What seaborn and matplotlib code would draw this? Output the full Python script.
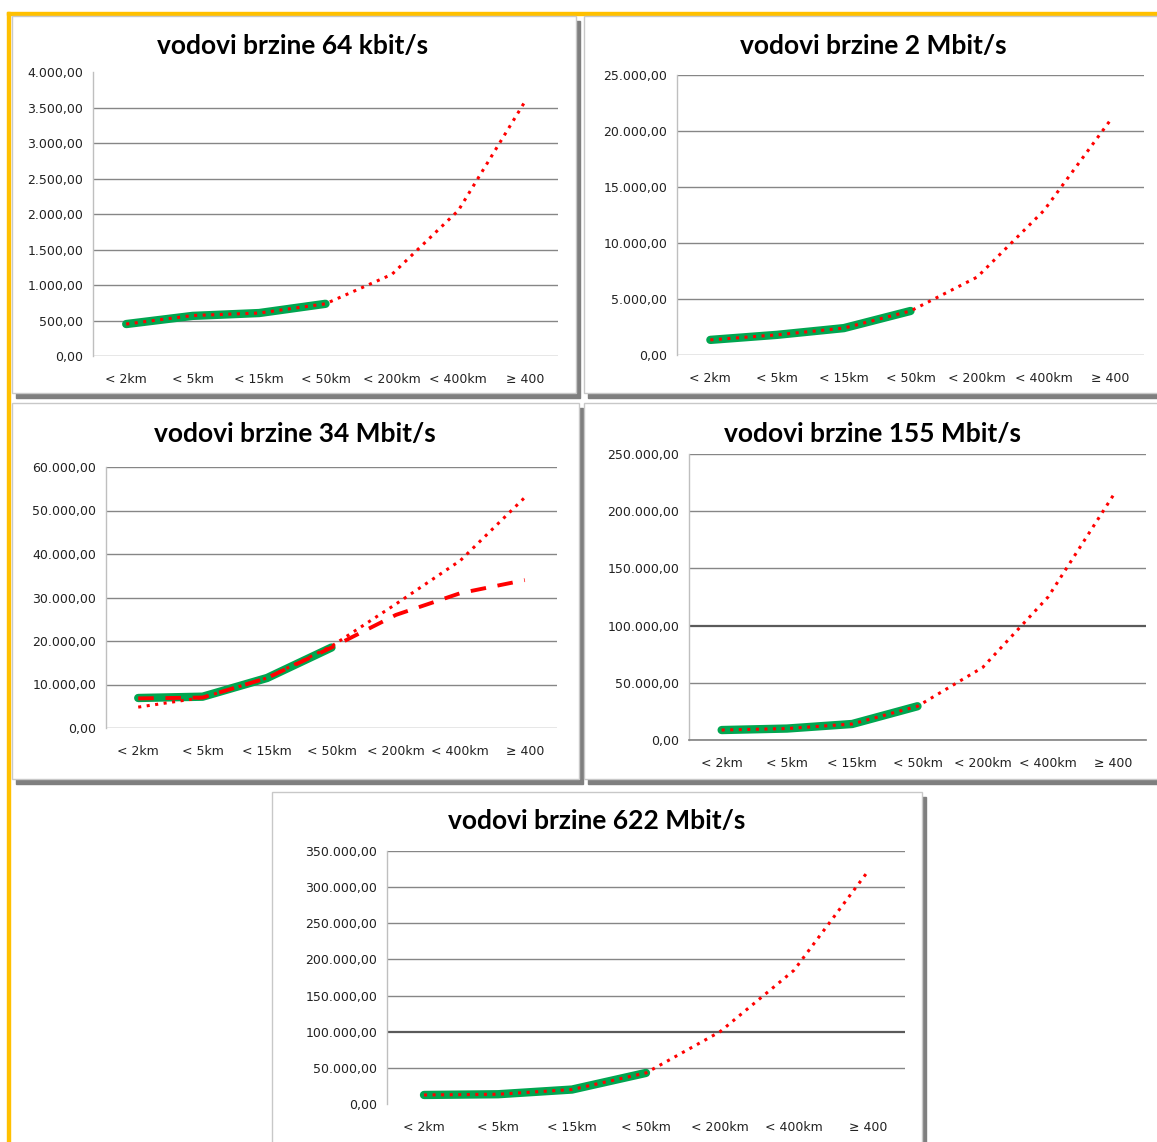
import matplotlib
matplotlib.use("Agg")
import matplotlib.pyplot as plt
from matplotlib.patches import Rectangle
from matplotlib.ticker import FuncFormatter, MultipleLocator
import seaborn as sns

W, H = 1157, 1142

kategorije = ["< 2km", "< 5km", "< 15km", "< 50km", "< 200km", "< 400km", "≥ 400"]

# vrijednosti ocitane sa slike (procjena)
trend_64k = [450, 570, 605, 735, 1150, 2050, 3580]
stvarno_64k = [450, 565, 605, 735]
trend_2m = [1350, 1800, 2400, 3930, 6960, 12900, 21000]
stvarno_2m = [1350, 1800, 2400, 3930]
trend_34m = [4800, 7000, 11500, 18800, 28500, 38500, 53000]
crtkano_34m = [6800, 7000, 11500, 18500, 26000, 31000, 34000]
stvarno_34m = [6900, 7200, 11500, 18500]
trend_155m = [8700, 10000, 14000, 29500, 63500, 125000, 214000]
stvarno_155m = [8700, 10000, 14000, 29500]
trend_622m = [12500, 13500, 20000, 43000, 100000, 185000, 322000]
stvarno_622m = [12500, 13500, 20000, 43000]

naslovi = ["vodovi brzine 64 kbit/s", "vodovi brzine 2 Mbit/s", "vodovi brzine 34 Mbit/s",
           "vodovi brzine 155 Mbit/s", "vodovi brzine 622 Mbit/s"]

ZELENA = "#00A650"
CRVENA = "#FF0000"
SIVA = "#868686"


def px_rect(x0, y0, x1, y1):
    # pikseli (y prema dolje) -> udio figure
    return [x0 / W, 1 - y1 / H, (x1 - x0) / W, (y1 - y0) / H]


def hr_format(v, pos):
    s = "{:,.2f}".format(v)
    return s.replace(",", "X").replace(".", ",").replace("X", ".")


def okvir(fig, x0, y0, x1, y1):
    # sjena pa bijela ploha s tankim rubom
    fig.patches.append(Rectangle((x0 / W + 4 / W, 1 - (y1 + 5) / H), (x1 - x0) / W, (y1 - y0) / H,
                                 transform=fig.transFigure, color="#7F7F7F", zorder=0))
    fig.patches.append(Rectangle((x0 / W, 1 - y1 / H), (x1 - x0) / W, (y1 - y0) / H,
                                 transform=fig.transFigure, facecolor="white",
                                 edgecolor="#C8C8C8", lw=1, zorder=1))


def crtaj(ax, trend, stvarno, ymax, step, naslov, naslov_xy, crtkano=None, donja_os=False):
    sns.lineplot(x=kategorije[:len(stvarno)], y=stvarno, ax=ax, color=ZELENA, lw=6,
                 sort=False, solid_capstyle="round", zorder=3)
    if crtkano is not None:
        sns.lineplot(x=kategorije, y=crtkano, ax=ax, color=CRVENA, lw=2.8, sort=False,
                     linestyle=(0, (4, 3)), zorder=4)
    sns.lineplot(x=kategorije, y=trend, ax=ax, color=CRVENA, lw=2.2, sort=False,
                 linestyle=(0, (1, 1.8)), zorder=5)
    ax.set_xlim(-0.5, 6.5)
    ax.set_ylim(0, ymax)
    ax.yaxis.set_major_locator(MultipleLocator(step))
    ax.yaxis.set_major_formatter(FuncFormatter(hr_format))
    ax.grid(axis="y", color=SIVA, lw=1)
    ax.grid(axis="x", visible=False)
    for gl in ax.get_ygridlines():
        y = gl.get_ydata()[0]
        if y == 0 and not donja_os:
            gl.set_visible(False)
        if y == 100000:
            gl.set_color("#5A5A5A")
            gl.set_lw(1.6)
    ax.set_xticks(range(len(kategorije)))
    ax.set_xticklabels(kategorije)
    ax.set_xticks([i - 0.5 for i in range(len(kategorije) + 1)], minor=True)
    ax.tick_params(axis="x", which="major", length=0, pad=12, labelsize=9, labelcolor="#222222")
    ax.tick_params(axis="x", which="minor", length=5, width=1, color=SIVA, direction="out")
    ax.tick_params(axis="y", length=4, width=1, color=SIVA, labelsize=9, labelcolor="#222222", pad=3)
    for s in ["top", "right"]:
        ax.spines[s].set_visible(False)
    ax.spines["left"].set_color("#BFBFBF")
    ax.spines["left"].set_lw(1)
    if donja_os:
        ax.spines["bottom"].set_color(SIVA)
    else:
        ax.spines["bottom"].set_visible(False)
    ax.set_xlabel("")
    ax.set_ylabel("")
    ax.set_facecolor("none")
    ax.set_zorder(2)
    fig = ax.figure
    fig.text(naslov_xy[0] / W, 1 - naslov_xy[1] / H, naslov, ha="center", va="center",
             fontsize=19, fontweight="bold", family=["Lato", "DejaVu Sans"], color="black", zorder=10)


sns.set_theme(style="white")
plt.rcParams["font.family"] = ["DejaVu Sans"]

fig = plt.figure(figsize=(W / 100, H / 100), dpi=100)
fig.patch.set_facecolor("white")

# zuti rub lijevo i gore
fig.patches.append(Rectangle((7 / W, 0), 3 / W, 1 - 12 / H, transform=fig.transFigure,
                             color="#FFC000", zorder=0))
fig.patches.append(Rectangle((7 / W, 1 - 15 / H), 1 - 7 / W, 3 / H, transform=fig.transFigure,
                             color="#FFC000", zorder=0))

okvir(fig, 12, 16, 576, 393)
okvir(fig, 584, 16, 1160, 393)
okvir(fig, 12, 403, 579, 779)
okvir(fig, 584, 403, 1160, 779)
okvir(fig, 272, 792, 922, 1150)

ax1 = fig.add_axes(px_rect(93, 72, 558, 356))
ax2 = fig.add_axes(px_rect(677, 75, 1144, 355))
ax3 = fig.add_axes(px_rect(106, 467, 557, 728))
ax4 = fig.add_axes(px_rect(689, 454, 1146, 740))
ax5 = fig.add_axes(px_rect(387, 851, 905, 1104))

crtaj(ax1, trend_64k, stvarno_64k, 4000, 500, naslovi[0], (293, 46))
crtaj(ax2, trend_2m, stvarno_2m, 25000, 5000, naslovi[1], (873, 46))
crtaj(ax3, trend_34m, stvarno_34m, 60000, 10000, naslovi[2], (295, 434), crtkano=crtkano_34m)
crtaj(ax4, trend_155m, stvarno_155m, 250000, 50000, naslovi[3], (872, 434), donja_os=True)
crtaj(ax5, trend_622m, stvarno_622m, 350000, 50000, naslovi[4], (597, 821))

fig.savefig("out.png", dpi=100)
